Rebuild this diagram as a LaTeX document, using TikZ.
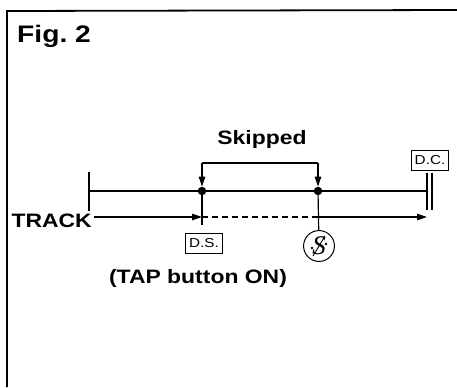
\documentclass[tikz,border=0pt]{standalone}
\usepackage{fontspec}
\setmainfont{Liberation Sans}[FakeStretch=1.18]
\newfontfamily\segnofont{Liberation Serif}
\usepackage{tikz}
\usetikzlibrary{arrows.meta, calc}
\tikzset{
  track line/.style={
    line width=1.2pt,
    color=black
  },
  track arrow/.style={
    -{Triangle[length=10pt, width=6.5pt]},
    line width=1.2pt
  },
  frame line/.style={
    line width=1.8pt,
    color=black
  },
  mark dot/.style={
    circle,
    fill=black,
    inner sep=0pt,
    minimum size=8.5pt
  },
  sign box/.style={
    draw,
    line width=0.7pt,
    inner sep=1pt,
    minimum height=20pt,
    minimum width=37pt,
    font=\fontsize{13}{13}\selectfont
  },
  big label/.style={
    font=\fontsize{19.5}{19.5}\selectfont\bfseries,
    inner sep=0pt
  }
}

\begin{document}
\begin{tikzpicture}[x=1bp, y=-1bp]
    \useasboundingbox (0,0) rectangle (457,387);

    % Rahmen (nur oben und links)
    \draw[frame line] (457,10) -- (7,11) -- (7,387);
    \node[big label, font=\fontsize{24}{24}\selectfont\bfseries, anchor=base west] (fig) at (17,42) {Fig.\ 2};

    % obere Spur mit Endmarken
    \coordinate (top start) at (89,191);
    \coordinate (top end) at (427,191);
    \node[mark dot] (ds dot) at (202,191) {};
    \node[mark dot] (seg dot) at (318,191) {};
    \draw[track line] (89,172) -- (89,211);
    \draw[track line] (top start) -- (ds dot) -- (seg dot) -- (top end);
    \draw[track line] (427,173) -- (427,210);
    \draw[track line] (432,173) -- (432,210);

    % Sprung
    \node[big label, anchor=base] (skipped) at (262,144) {Skipped};
    \coordinate (skip left) at (202,163);
    \coordinate (skip right) at (318,163);
    \draw[track line] (skip left) -- (skip right);
    \draw[track arrow] (skip left) -- (ds dot);
    \draw[track arrow] (skip right) -- (seg dot);

    % Zeichen
    \node[sign box] (ds) at (204,243) {D.S.};
    \node[sign box] (dc) at (430,160) {D.C.};
    \node[circle, draw, line width=1pt, minimum size=31pt, inner sep=0pt] (segno) at (319,246) {};
    \node[font=\fontsize{27}{27}\selectfont\segnofont\itshape, inner sep=0pt] (segno s) at (segno.center) {S};
    \draw[line width=0.9pt] ($(segno.center)+(-6,10)$) -- ($(segno.center)+(6,-10)$);
    \fill ($(segno.center)+(-7,2)$) circle (1.4);
    \fill ($(segno.center)+(7,-2)$) circle (1.4);

    % untere Spur (TRACK)
    \node[big label, anchor=base east] (track) at (92,227) {TRACK};
    \coordinate (track start) at (94,217);
    \coordinate (ds low) at (202,217);
    \coordinate (seg low) at (318,217);
    \coordinate (track end) at (427,217);
    \draw[track arrow] (track start) -- (ds low);
    \draw[track line, dashed, dash pattern=on 6pt off 4pt] (ds low) -- (seg low);
    \draw[track arrow] (seg low) -- (track end);
    \draw[track line] (ds dot) -- (202,225);
    \draw[track line] (seg dot) -- (segno);

    \node[big label, anchor=base] (tap) at (198,283) {(TAP button ON)};

  \end{tikzpicture}
\end{document}
